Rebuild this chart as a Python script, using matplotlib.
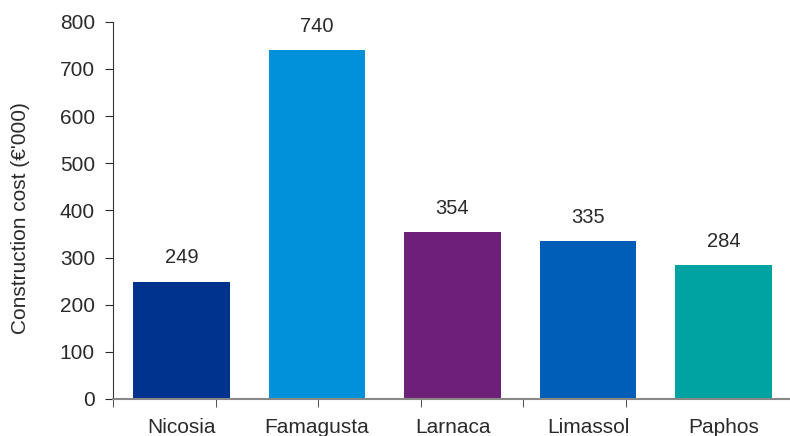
import numpy as np
import matplotlib.pyplot as plt

plt.rcParams['font.family'] = ['Liberation Sans', 'DejaVu Sans']

cities = ['Nicosia', 'Famagusta', 'Larnaca', 'Limassol', 'Paphos']
costs = [249, 740, 354, 335, 284]
colors = ['#00338D', '#0091DA', '#6D2077', '#005EB8', '#00A3A1']

fig = plt.figure(figsize=(7.9, 4.36), dpi=100)
ax = fig.add_axes([0.143, 0.085, 0.857, 0.865])

x = np.arange(len(cities))
bars = ax.bar(x, costs, width=0.715, color=colors)

for xi, v in zip(x, costs):
    ax.annotate(str(v), (xi, v), xytext=(0, 17), textcoords='offset points',
                ha='center', va='center', fontsize=14.5, color='#2a2a2a')

ax.set_xlim(-0.505, 4.49)
ax.set_ylim(0, 800)
ax.set_yticks(range(0, 801, 100))
ax.tick_params(axis='y', labelsize=15, length=6, direction='out', colors='#2a2a2a', pad=7)

ax.set_xticks(x)
ax.set_xticklabels(cities, fontsize=15, color='#2a2a2a')
ax.tick_params(axis='x', which='major', length=0, pad=14)
ax.set_xticks(-0.505 + 0.757 * np.arange(6), minor=True)
ax.tick_params(axis='x', which='minor', length=6, color='#333333')

ax.spines['top'].set_visible(False)
ax.spines['right'].set_visible(False)
ax.spines['left'].set_color('#333333')
ax.spines['left'].set_bounds(0, 800)
ax.spines['bottom'].set_color('#888888')
ax.spines['bottom'].set_linewidth(1.5)

ax.set_ylabel("Construction cost (€'000)", fontsize=15, color='#2a2a2a')
ax.yaxis.set_label_coords(-0.122, 0.48)

fig.savefig('out.png', dpi=100)
